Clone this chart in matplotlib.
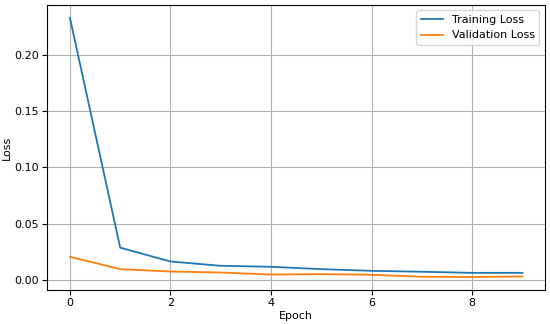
import matplotlib
matplotlib.use('Agg')
import matplotlib.pyplot as plt

epochs = [0, 1, 2, 3, 4, 5, 6, 7, 8, 9]
train_loss = [0.233, 0.0286, 0.0163, 0.0125, 0.0116, 0.0095, 0.0080, 0.0072, 0.0062, 0.0062]
val_loss = [0.0205, 0.0095, 0.0074, 0.0065, 0.0047, 0.0051, 0.0045, 0.0027, 0.0025, 0.0030]

plt.rcParams['font.size'] = 8

fig, ax = plt.subplots(figsize=(5.5, 3.24), dpi=100)
ax.plot(epochs, train_loss, label='Training Loss', lw=1.3)
ax.plot(epochs, val_loss, label='Validation Loss', lw=1.3)
ax.set_xlabel('Epoch', labelpad=2)
ax.set_ylabel('Loss', labelpad=2)
ax.tick_params(labelsize=8, pad=2.5)
ax.legend()
ax.grid(True)
fig.subplots_adjust(left=0.086, right=0.991, top=0.985, bottom=0.105)

plt.savefig('out.png')
